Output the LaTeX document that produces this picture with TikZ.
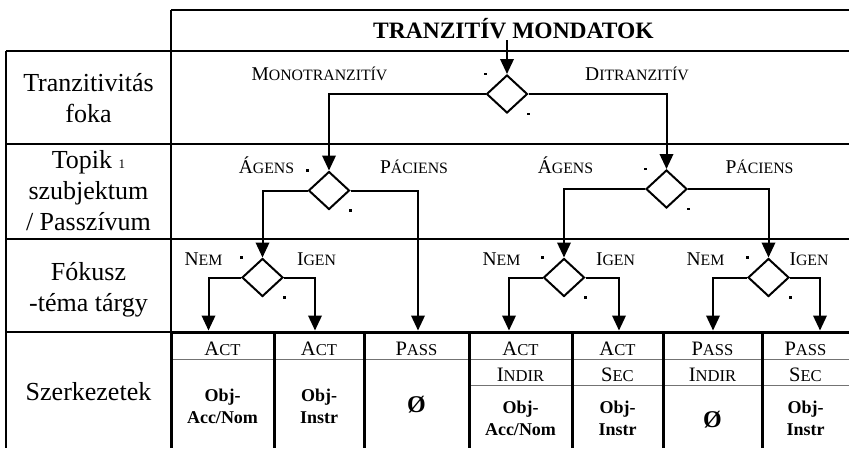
\documentclass[tikz,border=0pt]{standalone}
\usepackage{fontspec}
\setmainfont{Liberation Serif}
\usetikzlibrary{shapes.geometric,arrows.meta}

% fake small caps: first letter large, rest smaller
\newcommand{\toplab}[2]{{\fontsize{19.5}{19.5}\selectfont #1}{\fontsize{15.8}{15.8}\selectfont #2}}
\newcommand{\cellab}[2]{{\fontsize{20.5}{20.5}\selectfont #1}{\fontsize{16.6}{16.6}\selectfont #2}}

\begin{document}
\begin{tikzpicture}[
	x=1pt, y=-1pt,
	grid/.style={line width=1.2pt},
	heavy/.style={line width=3pt},
	light/.style={line width=0.8pt, black!55},
	choice/.style={
		diamond, draw, line width=2pt,
		minimum width=41pt, minimum height=38pt, inner sep=0pt
	},
	dotmark/.style={fill, inner sep=0pt, minimum width=3pt, minimum height=2.6pt},
	flow/.style={draw, line width=2pt, -{Triangle[length=15pt, width=13.5pt]}},
	rowlabel/.style={align=center, font=\fontsize{26}{31}\selectfont},
	branch/.style={anchor=base, inner sep=0pt},
	cellhead/.style={anchor=base, inner sep=0pt},
	objtext/.style={align=center, font=\bfseries\fontsize{18}{22}\selectfont},
	empty/.style={align=center, font=\bfseries\fontsize{24}{24}\selectfont},
	]
	\useasboundingbox (0,0) rectangle (849,448);

	% table grid
	\draw[grid] (171,10) -- (849,10);
	\draw[grid] (6,51) -- (849,51);
	\draw[grid] (6,144) -- (849,144);
	\draw[grid] (6,239) -- (849,239);
	\draw[grid] (6,332) -- (171,332);
	\draw[grid] (6,51) -- (6,448);
	\draw[grid] (171,10) -- (171,332);
	\draw[light] (171,359) -- (849,359);
	\draw[light] (469,385) -- (849,385);
	\draw[heavy] (171,332) -- (849,332);
	\foreach \x in {171,274,364,469,572,663,762}
		\draw[heavy] (\x,332) -- (\x,448);

	% row labels
	\node[rowlabel] (rtr) at (88.5,98.5) {Tranzitivitás\\foka};
	\node[rowlabel] (rtp) at (88.5,190.5) {Topik {\fontsize{13}{13}\selectfont 1}\\szubjektum\\/ Passzívum};
	\node[rowlabel] (rfo) at (88.5,290) {Fókusz\\-téma tárgy};
	\node[rowlabel] (rsz) at (88.5,392) {Szerkezetek};

	\node[anchor=base, inner sep=0pt, font=\bfseries\fontsize{23.5}{23.5}\selectfont] (title) at (513.5,38.3) {TRANZITÍV MONDATOK};

	% decision diamonds
	\node[choice] (d0) at (507,94) {};
	\node[choice] (d1) at (329,190.5) {};
	\node[choice] (d2) at (666.5,189) {};
	\node[choice] (d3) at (262.5,277.5) {};
	\node[choice] (d4) at (564,277.5) {};
	\node[choice] (d5) at (768.5,277.5) {};
	\foreach \d in {d0,d1,d2,d3,d4,d5} {
		\node[dotmark] (\d l) at (\d.west |- \d.north) {};
		\node[dotmark] (\d r) at (\d.east |- \d.south) {};
	}

	% branch labels
	\node[branch] (mono) at (319.5,80) {\toplab{M}{ONOTRANZITÍV}};
	\node[branch] (ditr) at (637,80) {\toplab{D}{ITRANZITÍV}};
	\node[branch] (ag1) at (266.5,173) {\toplab{Á}{GENS}};
	\node[branch] (pa1) at (414,173) {\toplab{P}{ÁCIENS}};
	\node[branch] (ag2) at (565.5,173) {\toplab{Á}{GENS}};
	\node[branch] (pa2) at (759.5,173) {\toplab{P}{ÁCIENS}};
	\node[branch] (ne1) at (203.5,265) {\toplab{N}{EM}};
	\node[branch] (ig1) at (316.5,265) {\toplab{I}{GEN}};
	\node[branch] (ne2) at (501.5,265) {\toplab{N}{EM}};
	\node[branch] (ig2) at (615.5,265) {\toplab{I}{GEN}};
	\node[branch] (ne3) at (705.5,265) {\toplab{N}{EM}};
	\node[branch] (ig3) at (809,265) {\toplab{I}{GEN}};

	% arrow ends on the table
	\coordinate (start) at (507,40);
	\coordinate (a1) at (208.5,330.5);
	\coordinate (a2) at (315,330.5);
	\coordinate (a3) at (418,330.5);
	\coordinate (a4) at (509,330.5);
	\coordinate (a5) at (619,330.5);
	\coordinate (a6) at (713,330.5);
	\coordinate (a7) at (820,330.5);

	\path[flow] (start) -- (d0);
	\path[flow] (d0.west) -| (d1);
	\path[flow] (d0.east) -| (d2);
	\path[flow] (d1.west) -| (d3);
	\path[flow] (d1.east) -| (a3);
	\path[flow] (d2.west) -| (d4);
	\path[flow] (d2.east) -| (d5);
	\path[flow] (d3.west) -| (a1);
	\path[flow] (d3.east) -| (a2);
	\path[flow] (d4.west) -| (a4);
	\path[flow] (d4.east) -| (a5);
	\path[flow] (d5.west) -| (a6);
	\path[flow] (d5.east) -| (a7);

	% structures
	\node[cellhead] (h1) at (222.5,355) {\cellab{A}{CT}};
	\node[cellhead] (h2) at (319,355) {\cellab{A}{CT}};
	\node[cellhead] (h3) at (416.5,355) {\cellab{P}{ASS}};
	\node[cellhead] (h4) at (520.5,355) {\cellab{A}{CT}};
	\node[cellhead] (h5) at (617.5,355) {\cellab{A}{CT}};
	\node[cellhead] (h6) at (712.5,355) {\cellab{P}{ASS}};
	\node[cellhead] (h7) at (805.5,355) {\cellab{P}{ASS}};
	\node[cellhead] (s4) at (520.5,381) {\cellab{I}{NDIR}};
	\node[cellhead] (s5) at (617.5,381) {\cellab{S}{EC}};
	\node[cellhead] (s6) at (712.5,381) {\cellab{I}{NDIR}};
	\node[cellhead] (s7) at (805.5,381) {\cellab{S}{EC}};

	\node[objtext] (o1) at (222.5,406.8) {Obj-\\Acc/Nom};
	\node[objtext] (o2) at (319,406.8) {Obj-\\Instr};
	\node[empty] (o3) at (416.5,405) {Ø};
	\node[objtext] (o4) at (520.5,418) {Obj-\\Acc/Nom};
	\node[objtext] (o5) at (617.5,418) {Obj-\\Instr};
	\node[empty] (o6) at (712.5,420) {Ø};
	\node[objtext] (o7) at (805.5,418) {Obj-\\Instr};
\end{tikzpicture}
\end{document}
